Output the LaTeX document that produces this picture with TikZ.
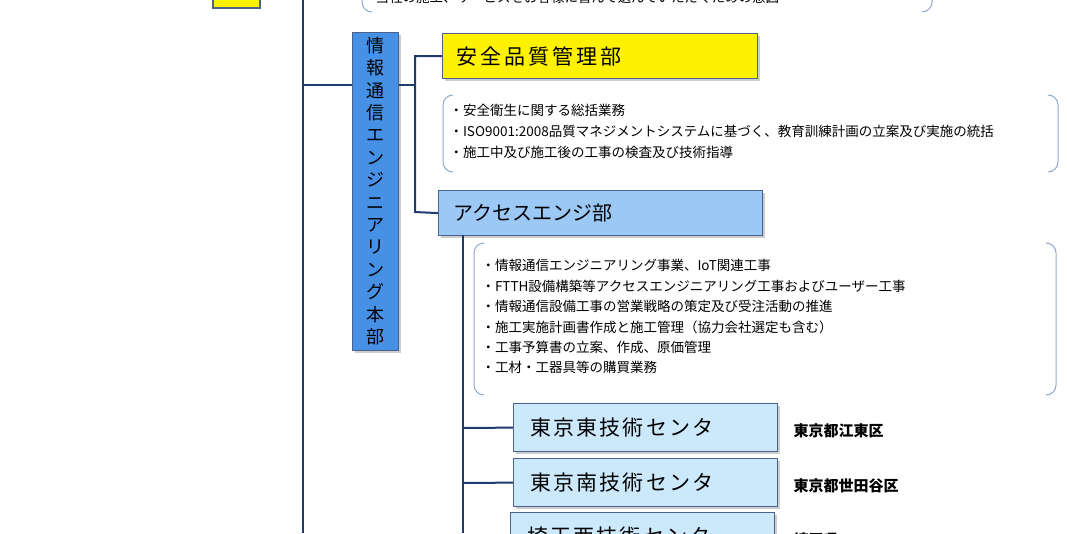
\documentclass[tikz,border=0pt]{standalone}
\usepackage{fontspec}
\setmainfont{Noto Sans CJK JP}
\usetikzlibrary{shadows}
\definecolor{navy}{HTML}{1F3A6E}
\definecolor{brk}{HTML}{8FA8C8}
\begin{document}
\begin{tikzpicture}[x=1pt,y=-1pt,
  bx/.style={draw=navy!80,line width=1.2pt,drop shadow={shadow xshift=2pt,shadow yshift=-2pt,opacity=.4}},
  ln/.style={draw=navy,line width=2pt},
  big/.style={font=\fontsize{21}{22}\selectfont\addfontfeatures{LetterSpace=14},anchor=west},
  bl/.style={font=\fontsize{13.5}{20}\selectfont,anchor=north west,align=left},
  br/.style={draw=brk,line width=1pt,rounded corners=10pt}]
\useasboundingbox (0,0) rectangle (1067,533);
\clip (0,0) rectangle (1067,533);
% top
\fill[yellow,draw=navy!80,line width=1.2pt] (213,-40) rectangle (260,8);
\draw[br] (372,-20) -- (362,-20) -- (362,12) -- (372,12);
\draw[br] (922,-20) -- (932,-20) -- (932,12) -- (922,12);
\node[bl,font=\fontsize{13.5}{14}\selectfont] (toptext) at (372,-12) {当社の施工、サービスをお客様に喜んで選んでいただくための意図};
\coordinate (mtop) at (303,0); \coordinate (mbot) at (303,533);
\draw[ln] (mtop) -- (mbot);
% honbu
\node[bx,fill={rgb,255:red,70;green,145;blue,230},minimum width=46pt,minimum height=318pt,inner sep=0,anchor=north west] (honbu) at (352,32) {};
\node[font=\fontsize{18}{22.4}\selectfont,align=center] (hlabel) at (375,191) {情\\報\\通\\信\\エ\\ン\\ジ\\ニ\\ア\\リ\\ン\\グ\\本\\部};
\coordinate (j1) at (303,85);
\draw[ln] (j1) -- (honbu.west |- j1);
\coordinate (j2) at (415,85);
\draw[ln] (honbu.east |- j2) -- (j2);
\node[bx,fill=yellow,minimum width=315pt,minimum height=45pt,anchor=north west] (anzen) at (442,33) {};
\node[big] at (453,56) {安全品質管理部};
\node[bx,fill={rgb,255:red,156;green,200;blue,245},minimum width=324pt,minimum height=45pt,anchor=north west] (access) at (438,190) {};
\node[big,font=\fontsize{20}{22}\selectfont] at (450,213) {アクセスエンジ部};
\draw[ln] (anzen.west) -| (415,212) -- (access.west);
% bracket1
\draw[br] (453,95) -- (443,95) -- (443,172) -- (453,172);
\draw[br] (1048,95) -- (1058,95) -- (1058,172) -- (1048,172);
\node[bl,font=\fontsize{13.5}{21}\selectfont] (t1) at (446,101) {・安全衛生に関する総括業務\\・ISO9001:2008品質マネジメントシステムに基づく、教育訓練計画の立案及び実施の統括\\・施工中及び施工後の工事の検査及び技術指導};
% access line
\coordinate (v2) at (463,533);
\draw[ln] (463,235) -- (v2);
\draw[br] (484,243) -- (474,243) -- (474,395) -- (484,395);
\draw[br] (1046,243) -- (1056,243) -- (1056,395) -- (1046,395);
\node[bl,font=\fontsize{13.5}{20.4}\selectfont] (t2) at (478,256) {・情報通信エンジニアリング事業、IoT関連工事\\・FTTH設備構築等アクセスエンジニアリング工事およびユーザー工事\\・情報通信設備工事の営業戦略の策定及び受注活動の推進\\・施工実施計画書作成と施工管理（協力会社選定も含む）\\・工事予算書の立案、作成、原価管理\\・工材・工器具等の購買業務};
% centers
\foreach \n/\y/\xx/\lab/\loc in {c1/403/513/東京東技術センタ/東京都江東区, c2/458/513/東京南技術センタ/東京都世田谷区, c3/512/510/埼玉西技術センタ/埼玉県}{
  \node[bx,fill={rgb,255:red,204;green,232;blue,251},minimum width=264pt,minimum height=48pt,anchor=north west] (\n) at (\xx,\y) {};
  \node[big,font=\fontsize{21}{22}\selectfont\addfontfeatures{LetterSpace=10}] at (\xx+14,\y+25) {\lab};
  \draw[ln] (463,\y+25) -- (\n.west);
  \node[font=\bfseries\fontsize{15}{16}\selectfont,anchor=west] at (790,\y+28) {\loc};
}
\end{tikzpicture}
\end{document}
